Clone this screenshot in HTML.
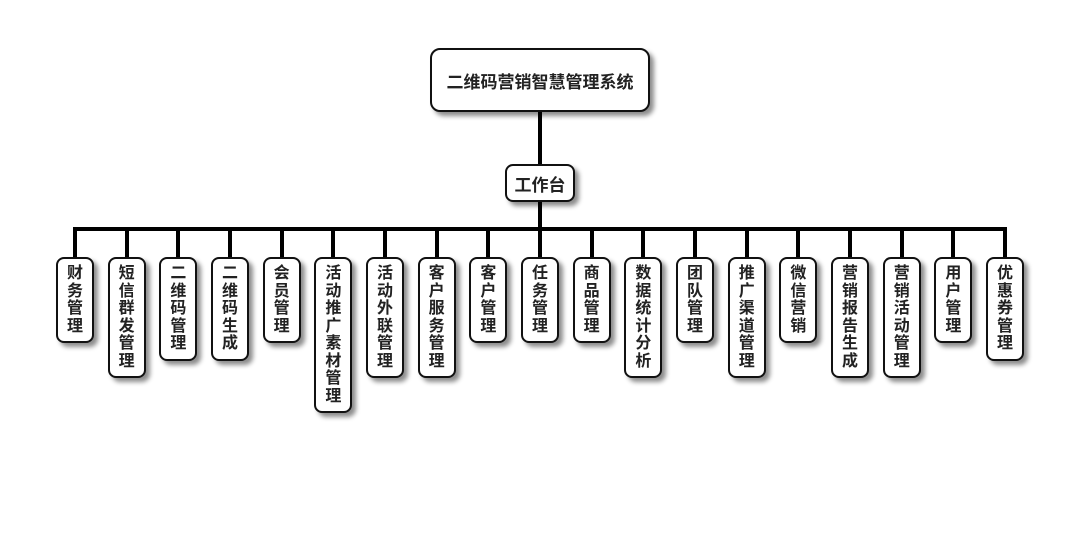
<!DOCTYPE html>
<html><head><meta charset="utf-8"><style>
body{margin:0;width:1080px;height:560px;background:#fff;position:relative;overflow:hidden;font-family:"Liberation Sans","Noto Sans CJK SC",sans-serif;font-weight:bold;color:#222}
.b{position:absolute;background:#fff;border:2px solid #111;box-sizing:border-box;border-radius:8px;box-shadow:4px 4px 5px rgba(0,0,0,0.45);display:flex;align-items:center;justify-content:center;text-align:center}
.l{position:absolute;background:#000}
.c{width:38px;top:257px;font-size:16px;line-height:17.5px;padding:8px 0;word-break:break-all}
.c span{display:block;width:17px;margin:0 auto}
</style></head><body>
<div class="l" style="left:538px;top:110px;width:4px;height:56px"></div>
<div class="l" style="left:538px;top:200px;width:4px;height:30px"></div>
<div class="l" style="left:73px;top:227px;width:934px;height:4px"></div>
<div class="b" style="left:430px;top:48px;width:220px;height:64px;border-radius:10px;font-size:17px">二维码营销智慧管理系统</div>
<div class="b" style="left:505px;top:164px;width:70px;height:38px;font-size:17px">工作台</div>
<div id="k"></div>
<script>
var n=["财务管理","短信群发管理","二维码管理","二维码生成","会员管理","活动推广素材管理","活动外联管理","客户服务管理","客户管理","任务管理","商品管理","数据统计分析","团队管理","推广渠道管理","微信营销","营销报告生成","营销活动管理","用户管理","优惠券管理"];
var h="";
for(var i=0;i<n.length;i++){var x=75+i*51.67;
h+='<div class="l" style="left:'+(x-2)+'px;top:229px;width:4px;height:30px"></div>';
h+='<div class="b c" style="left:'+(x-19)+'px;height:'+(n[i].length*17.5+16)+'px"><span>'+n[i]+'</span></div>';}
document.getElementById("k").innerHTML=h;
</script>
</body></html>
